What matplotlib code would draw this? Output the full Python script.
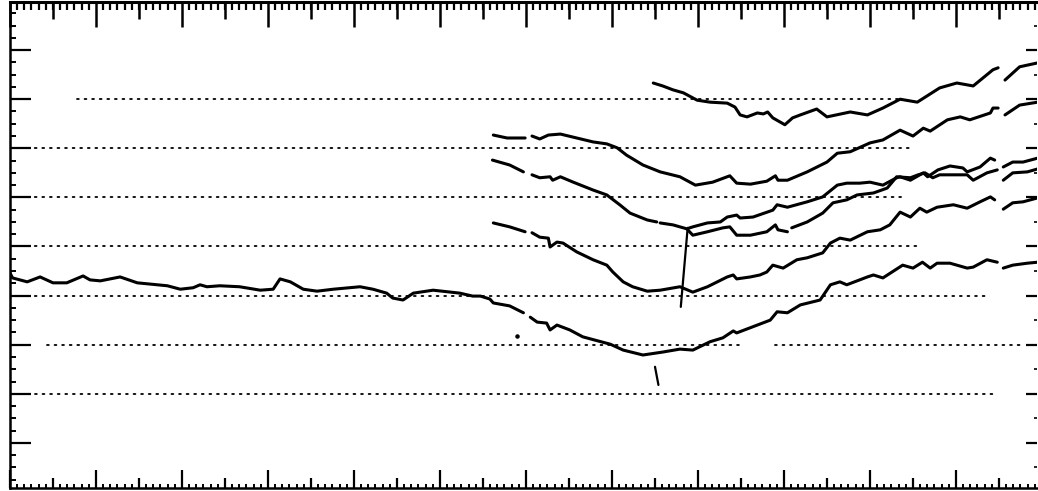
import numpy as np
import matplotlib
matplotlib.use("Agg")
import matplotlib.pyplot as plt
from matplotlib.ticker import MultipleLocator, FixedLocator, NullFormatter

nan = np.nan

# ---- data (in axis tick units) ----
c1_x = [7.48, 7.59, 7.71, 7.83, 7.99, 8.14, 8.34, 8.43, 8.49, 8.57, 8.69, 8.76, 8.81, 8.87, 8.95, 9.01,
        9.10, 9.19, 9.38, 9.50, 9.77, 9.97, 10.15, 10.35, 10.55, 10.81, 11.01, 11.20, 11.43, 11.49,
        nan, 11.57, 11.74, 11.95]
c1_y = [8.33, 8.27, 8.19, 8.13, 7.98, 7.94, 7.92, 7.84, 7.68, 7.64, 7.72, 7.70, 7.74, 7.62, 7.54, 7.48,
        7.62, 7.68, 7.80, 7.64, 7.74, 7.68, 7.82, 8.00, 7.94, 8.23, 8.33, 8.27, 8.60, 8.64,
        nan, 8.39, 8.66, 8.74]

c2_x = [5.62, 5.78, 5.99, nan, 6.07, 6.16, 6.26, 6.40, 6.59, 6.78, 6.94, 7.06, 7.17, 7.36, 7.56, 7.79,
        7.97, 8.17, 8.37, 8.45, 8.61, 8.80, 8.90, 8.93, 9.04, 9.27, 9.50, 9.62, 9.77, 10.00, 10.15,
        10.35, 10.50, 10.62, 10.70, 10.90, 11.05, 11.16, 11.40, 11.43, 11.49, nan, 11.57, 11.74, 11.95]
c2_y = [7.27, 7.21, 7.21, nan, 7.25, 7.19, 7.27, 7.29, 7.21, 7.13, 7.09, 7.01, 6.86, 6.66, 6.52, 6.42,
        6.25, 6.31, 6.44, 6.29, 6.27, 6.33, 6.44, 6.35, 6.35, 6.52, 6.72, 6.90, 6.93, 7.11, 7.17,
        7.37, 7.25, 7.41, 7.35, 7.58, 7.64, 7.58, 7.72, 7.82, 7.82, nan, 7.68, 7.88, 7.94]

c3_x = [5.61, 5.81, 5.97, nan, 6.07, 6.16, 6.28, 6.31, 6.40, 6.55, 6.78, 6.94, 7.09, 7.21, 7.41, 7.52,
        nan, 7.56, 7.71, 7.87, 7.94, 8.11, 8.26, 8.34, 8.45, 8.49, 8.64, 8.87, 8.92, 9.04, 9.27, 9.45,
        9.62, 9.73, 9.88, 10.00, 10.15, 10.31, 10.35, 10.47, 10.62, 10.67, 10.79, 10.93, 11.08, 11.13,
        11.28, 11.40, 11.45, nan, 11.55, 11.66, 11.78, 11.95]
c3_y = [6.76, 6.66, 6.52, nan, 6.46, 6.40, 6.42, 6.35, 6.42, 6.31, 6.15, 6.05, 5.85, 5.68, 5.54, 5.50,
        nan, 5.48, 5.44, 5.36, 5.40, 5.48, 5.50, 5.60, 5.64, 5.58, 5.60, 5.74, 5.85, 5.80, 5.91, 6.01,
        6.25, 6.29, 6.29, 6.31, 6.25, 6.40, 6.42, 6.35, 6.50, 6.42, 6.56, 6.64, 6.60, 6.52,
        6.62, 6.80, 6.76, nan, 6.62, 6.72, 6.72, 6.80]

c4_x = [7.88, 7.94, 8.11, 8.29, 8.37, 8.45, 8.61, 8.80, 8.90, 8.93, 9.04, nan, 9.09, 9.27, 9.45, 9.57,
        9.73, 9.85, 10.04, 10.20, 10.31, 10.47, 10.56, 10.64, 10.73, 10.81, 11.13, 11.20, 11.36, 11.48,
        nan, 11.55, 11.66, 11.83, 11.95]
c4_y = [5.34, 5.23, 5.30, 5.38, 5.40, 5.23, 5.23, 5.30, 5.44, 5.34, 5.30, nan, 5.38, 5.50, 5.68, 5.89,
        5.95, 6.05, 6.09, 6.19, 6.42, 6.40, 6.46, 6.50, 6.40, 6.46, 6.46, 6.35, 6.50, 6.56,
        nan, 6.35, 6.50, 6.52, 6.58]

c5_x = [5.62, 5.81, 5.99, nan, 6.07, 6.16, 6.26, 6.28, 6.36, 6.43, 6.59, 6.78, 6.94, 7.01, 7.13, 7.24,
        7.41, 7.56, 7.79, 7.94, 8.11, 8.34, 8.41, 8.45, 8.61, 8.72, 8.80, 8.87, 8.99, 9.15, 9.27, 9.45,
        9.54, 9.65, 9.77, 9.97, 10.12, 10.23, 10.35, 10.47, 10.58, 10.66, 10.78, 10.97, 11.13, 11.28,
        11.40, 11.45, nan, 11.55, 11.66, 11.78, 11.95]
c5_y = [5.48, 5.40, 5.30, nan, 5.28, 5.19, 5.17, 4.99, 5.09, 5.07, 4.89, 4.73, 4.62, 4.48, 4.28, 4.18,
        4.09, 4.11, 4.18, 4.07, 4.18, 4.38, 4.42, 4.34, 4.38, 4.42, 4.48, 4.62, 4.56, 4.73, 4.77, 4.87,
        5.07, 5.17, 5.13, 5.30, 5.34, 5.44, 5.70, 5.60, 5.78, 5.70, 5.80, 5.85, 5.78, 5.91,
        6.01, 5.95, nan, 5.76, 5.89, 5.91, 5.99]

c6_x = [0.00, 0.03, 0.20, 0.35, 0.50, 0.66, 0.85, 0.93, 1.05, 1.28, 1.48, 1.83, 1.98, 2.13, 2.21, 2.29,
        2.44, 2.67, 2.91, 3.06, 3.14, 3.26, 3.41, 3.57, 3.76, 4.07, 4.22, 4.38, 4.45, 4.57, 4.69, 4.92,
        5.23, 5.38, 5.47, 5.58, 5.62, 5.81, 5.97, nan, 6.05, 6.13, 6.24, 6.28, 6.36, 6.51, 6.66, 6.83,
        6.98, 7.13, 7.36, 7.59, 7.79, 7.94, 8.14, 8.29, 8.41, 8.45, 8.69, 8.84, 8.92, 9.04, 9.19, 9.42,
        9.54, 9.65, 9.73, 9.97, 10.04, 10.15, 10.38, 10.50, 10.61, 10.70, 10.78, 10.93, 11.13, 11.20,
        11.36, 11.48, nan, 11.55, 11.66, 11.83, 11.95]
c6_y = [4.46, 4.36, 4.28, 4.38, 4.26, 4.26, 4.40, 4.32, 4.30, 4.38, 4.26, 4.20, 4.13, 4.16, 4.22, 4.18,
        4.20, 4.18, 4.11, 4.13, 4.34, 4.28, 4.13, 4.09, 4.13, 4.18, 4.13, 4.05, 3.95, 3.91, 4.05, 4.11,
        4.05, 3.99, 3.99, 3.93, 3.85, 3.79, 3.65, nan, 3.56, 3.46, 3.44, 3.30, 3.40, 3.30, 3.16, 3.08,
        3.01, 2.89, 2.79, 2.85, 2.91, 2.89, 3.06, 3.14, 3.28, 3.24, 3.40, 3.50, 3.67, 3.65, 3.81, 3.91,
        4.22, 4.28, 4.22, 4.38, 4.42, 4.36, 4.62, 4.56, 4.68, 4.56, 4.66, 4.66, 4.56, 4.58,
        4.73, 4.68, nan, 4.56, 4.62, 4.66, 4.68]

curves_x = [c1_x, c2_x, c3_x, c4_x, c5_x, c6_x]
curves_y = [c1_y, c2_y, c3_y, c4_y, c5_y, c6_y]

# stray pen marks on the record
mark_x = [[7.88, 7.80], [7.50, 7.54]]
mark_y = [[5.38, 3.77], [2.55, 2.18]]
dot_x = [5.90]
dot_y = [3.18]

# dotted reference lines: level and extents
grid_levels = [8, 7, 6, 5, 4, 3, 3, 2]
grid_start = [0.78, 0.02, 0.02, 0.02, 0.02, 0.43, 8.90, 0.29]
grid_end = [10.35, 10.47, 10.41, 10.56, 11.40, 8.49, 11.74, 11.45]

# ---- figure ----
W, H = 1038, 491
fig = plt.figure(figsize=(W / 100, H / 100), dpi=100)
fig.patch.set_facecolor("white")
ax = fig.add_axes([10 / W, 3 / H, 1027 / W, 486 / H])
ax.set_xlim(0, 11.942)
ax.set_ylim(0.081, 9.98)

for lvl, s, e in zip(grid_levels, grid_start, grid_end):
    ax.plot([s, e], [lvl, lvl], color="black", lw=1.3, linestyle=(0, (1, 3.2)),
            dash_capstyle="round", zorder=1)

for xs, ys in zip(curves_x, curves_y):
    ax.plot(xs, ys, color="black", lw=2.2, solid_capstyle="round",
            solid_joinstyle="round", zorder=3)

for xs, ys in zip(mark_x, mark_y):
    ax.plot(xs, ys, color="black", lw=1.6, solid_capstyle="round", zorder=3)
ax.scatter(dot_x, dot_y, s=5, color="black", zorder=3)

# ---- frame & ticks ----
for side in ["left", "bottom", "top"]:
    ax.spines[side].set_linewidth(1.8)
ax.spines["right"].set_visible(False)

ax.xaxis.set_major_locator(MultipleLocator(1))
ax.xaxis.set_minor_locator(MultipleLocator(1 / 12))
ax.yaxis.set_major_locator(MultipleLocator(1))
ax.yaxis.set_minor_locator(MultipleLocator(0.25))
ax.xaxis.set_major_formatter(NullFormatter())
ax.yaxis.set_major_formatter(NullFormatter())
ax.tick_params(axis="x", which="major", direction="in", length=13, width=1.6,
               bottom=True, top=False, labelbottom=False)
ax.tick_params(axis="x", which="minor", direction="in", length=3, width=1.4,
               bottom=True, top=False)
ax.tick_params(axis="y", which="major", direction="in", length=15, width=1.6,
               left=True, right=False, labelleft=False)
ax.tick_params(axis="y", which="minor", direction="in", length=4, width=1.4,
               left=True, right=False)

half_ticks = [k + 0.5 for k in range(12)]

# bottom half ticks
b2 = ax.secondary_xaxis("bottom")
b2.xaxis.set_major_locator(FixedLocator(half_ticks))
b2.xaxis.set_major_formatter(NullFormatter())
b2.tick_params(direction="in", length=7, width=1.6)
b2.spines["bottom"].set_visible(False)

# top ticks
t1 = ax.secondary_xaxis("top")
t1.xaxis.set_major_locator(MultipleLocator(1))
t1.xaxis.set_minor_locator(MultipleLocator(1 / 12))
t1.xaxis.set_major_formatter(NullFormatter())
t1.tick_params(which="major", direction="in", length=18, width=1.8)
t1.tick_params(which="minor", direction="in", length=6, width=1.6)
t1.spines["top"].set_linewidth(2.2)

t2 = ax.secondary_xaxis("top")
t2.xaxis.set_major_locator(FixedLocator(half_ticks))
t2.xaxis.set_major_formatter(NullFormatter())
t2.tick_params(direction="in", length=12, width=1.8)
t2.spines["top"].set_visible(False)

# right ticks
r1 = ax.secondary_yaxis("right")
r1.yaxis.set_major_locator(MultipleLocator(1))
r1.yaxis.set_minor_locator(MultipleLocator(0.5))
r1.yaxis.set_major_formatter(NullFormatter())
r1.tick_params(which="major", direction="in", length=8, width=1.6)
r1.tick_params(which="minor", direction="in", length=2, width=1.2)
r1.spines["right"].set_visible(False)

fig.savefig("out.png", dpi=100, facecolor="white")
